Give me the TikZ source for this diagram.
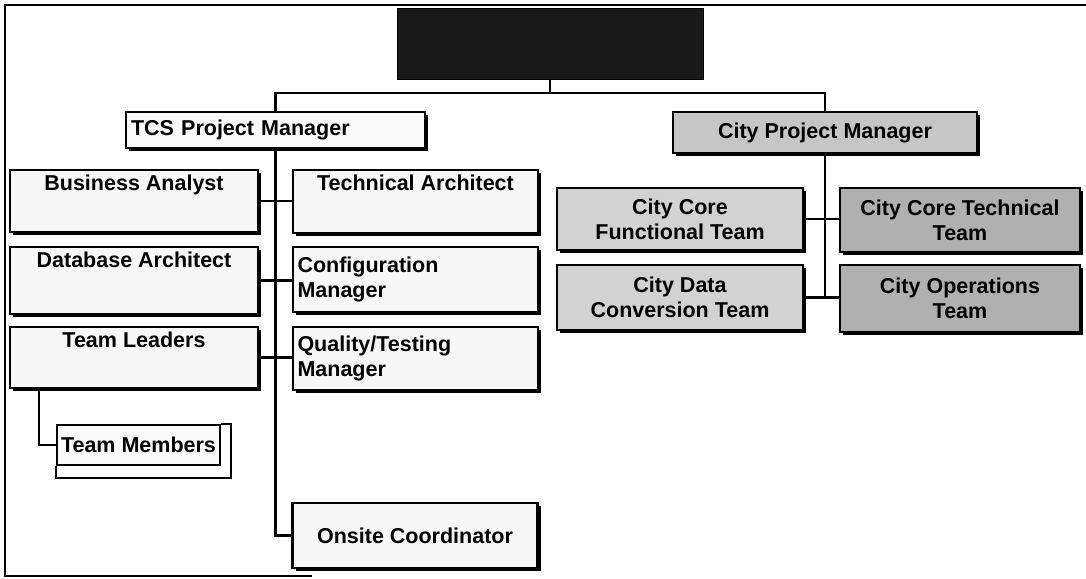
\documentclass[tikz,border=0pt]{standalone}
\usepackage{fontspec}
\setmainfont{Liberation Sans}
\usetikzlibrary{shadows}
\begin{document}
\begin{tikzpicture}[x=1pt,y=-1pt,font=\fontsize{21.5}{25}\selectfont\bfseries,
 box/.style={draw,line width=2.2pt,inner sep=4pt,drop shadow={shadow xshift=3pt,shadow yshift=-3pt,fill=black,opacity=1}},
 pale/.style={box,fill=gray!6},
 toptext/.style={text height=15pt,text depth=#1,inner ysep=5pt},
 city/.style={box,fill=gray!35,align=center},
 citydark/.style={box,fill=gray!62,align=center},
 link/.style={line width=2.4pt}]
\useasboundingbox (0,0) rectangle (1086,578);
\draw[link] (1086,5) -- (5,5) -- (5,576) -- (312,576);
\node[draw,fill=black!90,minimum width=306,minimum height=71] (head) at (550,43.5) {};
\node[box,fill=gray!4,minimum width=299,minimum height=36,text width=289pt,align=left] (tcspm) at (275.5,130) {TCS Project Manager};
\node[city,fill=gray!45,minimum width=304,minimum height=41] (citypm) at (825,132.5) {City Project Manager};
\draw[link] (head.south) -- ++(0,14) -| (tcspm.north);\draw[link] (head.south) -- ++(0,14) -| (citypm.north);
\node[pale,toptext=37pt,minimum width=248,minimum height=62] (ba) at (134,201) {Business Analyst};
\node[pale,toptext=42pt,minimum width=248,minimum height=67] (da) at (134,280.5) {Database Architect};
\node[pale,toptext=36pt,minimum width=248,minimum height=61] (tl) at (134,357.5) {Team Leaders};
\node[pale,toptext=38pt,minimum width=245,minimum height=63] (ta) at (415.5,201.5) {Technical Architect};
\node[pale,text width=236pt,align=left,minimum width=245,minimum height=65] (cm) at (415.5,279.5) {Configuration\\Manager};
\node[pale,text width=236pt,align=left,minimum width=245,minimum height=63] (qt) at (415.5,358.5) {Quality/Testing\\Manager};
\node[pale,minimum width=245,minimum height=65] (oc) at (415,535.5) {Onsite Coordinator};
\node[draw,line width=2.2pt,fill=gray!4,minimum width=163,minimum height=40,inner sep=2pt] (tm) at (138.5,445) {Team Members};
\draw[link] (tm.north east) -- ++(10,0) |- ([yshift=-12pt]tm.south west) -- (tm.south west);
\draw[link] (tcspm.south) |- (oc.west);
\draw[link] (ba.east) -- (ba.east -| ta.west);\draw[link] (da.east) -- (da.east -| cm.west);\draw[link] (tl.east) -- (tl.east -| qt.west);
\draw[link] ([xshift=30pt]tl.south west) |- (tm.west);
\node[city,minimum width=246,minimum height=62] (ccf) at (680,219) {City Core\\Functional Team};
\node[city,minimum width=246,minimum height=65] (cdc) at (680,297.5) {City Data\\Conversion Team};
\node[citydark,minimum width=240,minimum height=64] (cct) at (960,220) {City Core Technical\\Team};
\node[citydark,minimum width=240,minimum height=67] (cops) at (960,298.5) {City Operations\\Team};
\draw[link] (citypm.south) -- (citypm.south |- cdc.east);
\draw[link] (ccf.east) -- (ccf.east -| cct.west);\draw[link] (cdc.east) -- (cdc.east -| cops.west);
\end{tikzpicture}
\end{document}
